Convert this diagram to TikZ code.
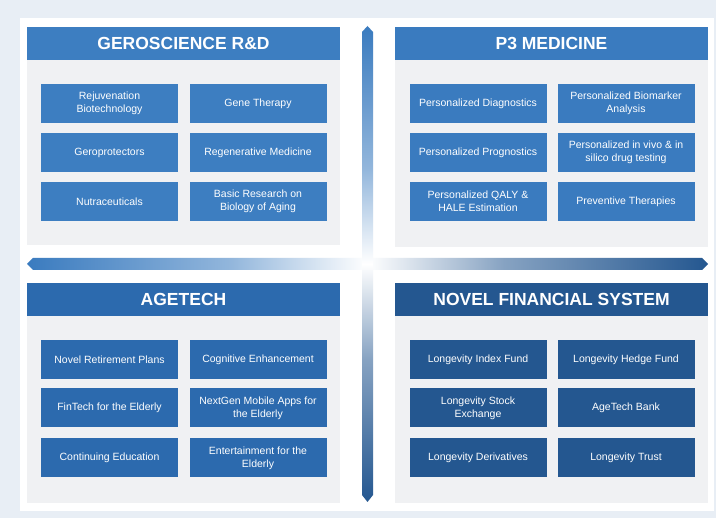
\documentclass[tikz,border=0pt]{standalone}
\usepackage{fontspec}
\setmainfont{Liberation Sans}
\definecolor{bgGrey}{HTML}{E8EEF5}
\definecolor{panelGrey}{HTML}{F0F1F3}
\definecolor{geroBlue}{HTML}{3D7EC1}
\definecolor{medBlue}{HTML}{3A7BBF}
\definecolor{ageBlue}{HTML}{2C6AAE}
\definecolor{finBlue}{HTML}{245790}
\pgfdeclareverticalshading{vfade}{100bp}{color(0bp)=(finBlue); color(25bp)=(finBlue); color(40bp)=(finBlue!55); color(50bp)=(white); color(60bp)=(medBlue!55); color(75bp)=(medBlue); color(100bp)=(medBlue)}
\pgfdeclarehorizontalshading{hfade}{100bp}{color(0bp)=(medBlue); color(25bp)=(medBlue); color(40bp)=(medBlue!55); color(50bp)=(white); color(60bp)=(finBlue!55); color(75bp)=(finBlue); color(100bp)=(finBlue)}
\begin{document}
\begin{tikzpicture}[x=1pt,y=-1pt,
  head/.style={minimum width=313pt,minimum height=33pt,inner sep=0pt,text=white,
    font=\fontsize{17.5}{20}\selectfont\bfseries},
  item/.style={minimum width=137pt,minimum height=39pt,inner sep=1pt,text=white,
    align=center,font=\fontsize{10.5}{13}\selectfont}]
\useasboundingbox (0,0) rectangle (716,518);
\fill[bgGrey] (0,0) rectangle (716,518);
\fill[white] (20,18) rectangle (714,511);
% quadrant panels
\fill[panelGrey] (27,27) rectangle (340,245);
\fill[panelGrey] (395,27) rectangle (708,247);
\fill[panelGrey] (27,283) rectangle (340,503);
\fill[panelGrey] (395,283) rectangle (708,503);
% axes
\shade[shading=hfade] (27,264) -- (33,258) -- (702,258) -- (708,264) -- (702,270) -- (33,270) -- cycle;
\shade[shading=vfade] (367.5,26) -- (373,32) -- (373,495) -- (367.5,502) -- (362,495) -- (362,32) -- cycle;
% geroscience
\node[head,fill=geroBlue] (gero) at (183.5,43.5) {GEROSCIENCE R\&D};
\node[item,fill=geroBlue] (rejuv) at (109.5,103.5) {Rejuvenation\\Biotechnology};
\node[item,fill=geroBlue] (gene) at (258,103.5) {Gene Therapy};
\node[item,fill=geroBlue] (geroprot) at (109.5,152.5) {Geroprotectors};
\node[item,fill=geroBlue] (regen) at (258,152.5) {Regenerative Medicine};
\node[item,fill=geroBlue] (nutra) at (109.5,201.5) {Nutraceuticals};
\node[item,fill=geroBlue] (basic) at (258,201.5) {Basic Research on\\Biology of Aging};
% p3 medicine
\node[head,fill=medBlue] (pmed) at (551.5,43.5) {P3 MEDICINE};
\node[item,fill=medBlue] (diag) at (478,103.5) {Personalized Diagnostics};
\node[item,fill=medBlue] (biomark) at (626,103.5) {Personalized Biomarker\\Analysis};
\node[item,fill=medBlue] (progn) at (478,152.5) {Personalized Prognostics};
\node[item,fill=medBlue] (drug) at (626,152.5) {Personalized in vivo \& in\\silico drug testing};
\node[item,fill=medBlue] (qaly) at (478,201.5) {Personalized QALY \&\\HALE Estimation};
\node[item,fill=medBlue] (prev) at (626,201.5) {Preventive Therapies};
% agetech
\node[head,fill=ageBlue] (agetech) at (183.5,299.5) {AGETECH};
\node[item,fill=ageBlue] (retire) at (109.5,360) {Novel Retirement Plans};
\node[item,fill=ageBlue] (cogn) at (258,360) {Cognitive Enhancement};
\node[item,fill=ageBlue] (fintech) at (109.5,408) {FinTech for the Elderly};
\node[item,fill=ageBlue] (apps) at (258,408) {NextGen Mobile Apps for\\the Elderly};
\node[item,fill=ageBlue] (educ) at (109.5,458) {Continuing Education};
\node[item,fill=ageBlue] (entert) at (258,458) {Entertainment for the\\Elderly};
% financial system
\node[head,fill=finBlue] (finsys) at (551.5,299.5) {NOVEL FINANCIAL SYSTEM};
\node[item,fill=finBlue] (index) at (478,360) {Longevity Index Fund};
\node[item,fill=finBlue] (hedge) at (626,360) {Longevity Hedge Fund};
\node[item,fill=finBlue] (stock) at (478,408) {Longevity Stock\\Exchange};
\node[item,fill=finBlue] (bank) at (626,408) {AgeTech Bank};
\node[item,fill=finBlue] (deriv) at (478,458) {Longevity Derivatives};
\node[item,fill=finBlue] (trust) at (626,458) {Longevity Trust};
\end{tikzpicture}
\end{document}
